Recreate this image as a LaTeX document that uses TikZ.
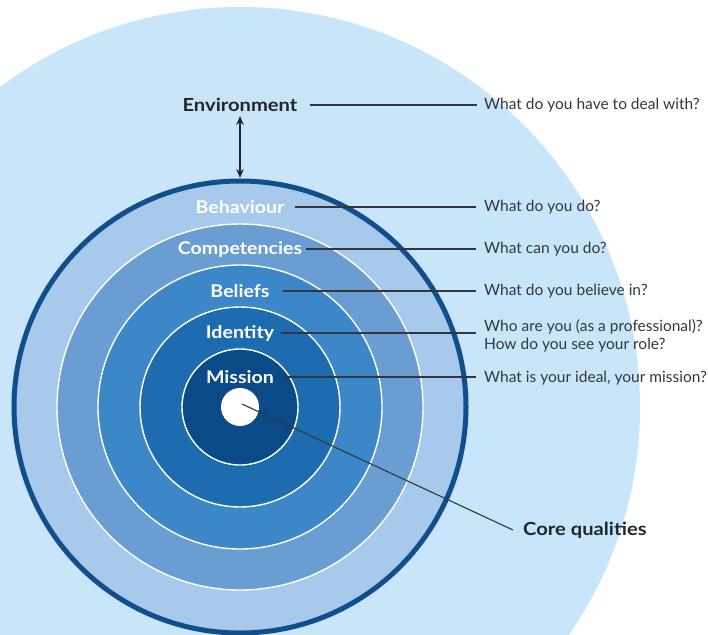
\documentclass[tikz,border=0pt]{standalone}
\usepackage{fontspec}
\setmainfont{Lato}
\newfontfamily\lblfont{Lato}[FakeStretch=1.12]
\usetikzlibrary{arrows.meta}
\definecolor{bgblue}{HTML}{C9E5F9}
\definecolor{behblue}{HTML}{A6C9EC}
\definecolor{comblue}{HTML}{6A9ED2}
\definecolor{belblue}{HTML}{3C87C7}
\definecolor{idblue}{HTML}{1E6CB0}
\definecolor{misblue}{HTML}{0A4A87}
\definecolor{ringblue}{HTML}{104E8C}
\definecolor{txtdark}{HTML}{23272B}
\definecolor{qtxt}{HTML}{34383C}
\definecolor{linegray}{HTML}{33373B}
\tikzset{
  lbl/.style={text=white, font=\lblfont\bfseries\fontsize{17.5}{20}\selectfont, inner sep=0pt},
  blk/.style={text=txtdark, font=\lblfont\bfseries\fontsize{18}{20}\selectfont, inner sep=0pt},
  qst/.style={text=qtxt, font=\fontsize{15.5}{17.5}\selectfont, inner sep=0pt, anchor=west, align=left},
  lead/.style={draw=linegray, line width=1.1pt},
  whitering/.style={draw=white, line width=1.4pt}
}
\begin{document}
\begin{tikzpicture}[x=1pt,y=-1pt]
\useasboundingbox (0,0) rectangle (708,634);
\clip (0,0) rectangle (708,634);
\fill[white] (0,0) rectangle (708,634);
% background circle
\fill[bgblue] (240,407) circle[radius=400pt];
% rings
\fill[behblue] (240,407) circle[radius=226pt];
\draw[ringblue, line width=5pt] (240,407) circle[radius=226pt];
\filldraw[fill=comblue, whitering] (240,407) circle[radius=183pt];
\filldraw[fill=belblue, whitering] (240,407) circle[radius=142pt];
\filldraw[fill=idblue, whitering] (240,407) circle[radius=100pt];
\filldraw[fill=misblue, whitering] (240,407) circle[radius=58pt];
\fill[white] (240,407) circle[radius=19pt];
% labels
\node[blk] (env) at (240,105) {Environment};
\node[lbl] (beh) at (240,207) {Behaviour};
\node[lbl] (com) at (240,249) {Competencies};
\node[lbl] (bel) at (240,291) {Beliefs};
\node[lbl] (ide) at (240,333) {Identity};
\node[lbl] (mis) at (240,377) {Mission};
\node[blk, anchor=west] (cq) at (523,530) {Core qualities};
% questions
\node[qst] (qenv) at (484,105) {What do you have to deal with?};
\node[qst] (qbeh) at (484,207) {What do you do?};
\node[qst] (qcom) at (484,249) {What can you do?};
\node[qst] (qbel) at (484,291) {What do you believe in?};
\node[qst] (qide) at (484,336) {Who are you (as a professional)?\\How do you see your role?};
\node[qst] (qmis) at (484,378) {What is your ideal, your mission?};
% leader lines
\draw[lead, shorten <=12pt, shorten >=7pt] (env.east) -- (qenv.west |- env.east);
\draw[lead, shorten <=10pt, shorten >=8pt] (beh.east) -- (qbeh.west |- beh.east);
\draw[lead, shorten <=4pt, shorten >=8pt] (com.east) -- (qcom.west |- com.east);
\draw[lead, shorten <=13pt, shorten >=8pt] (bel.east) -- (qbel.west |- bel.east);
\draw[lead, shorten <=7pt, shorten >=8pt] (ide.east) -- (qide.west |- ide.east);
\draw[lead, shorten <=9pt, shorten >=8pt] (mis.east) -- (qmis.west |- mis.east);
% arrow
\coordinate (ringtop) at (240,178);
\draw[draw=txtdark, line width=1.4pt, {Stealth[length=9pt,width=7.5pt]}-{Stealth[length=9pt,width=7.5pt]}, shorten <=4pt] (env.south) -- (ringtop);
% core qualities connector
\coordinate (core) at (242,404);
\draw[lead] (core) -- ([xshift=-10pt]cq.west);
\end{tikzpicture}
\end{document}
